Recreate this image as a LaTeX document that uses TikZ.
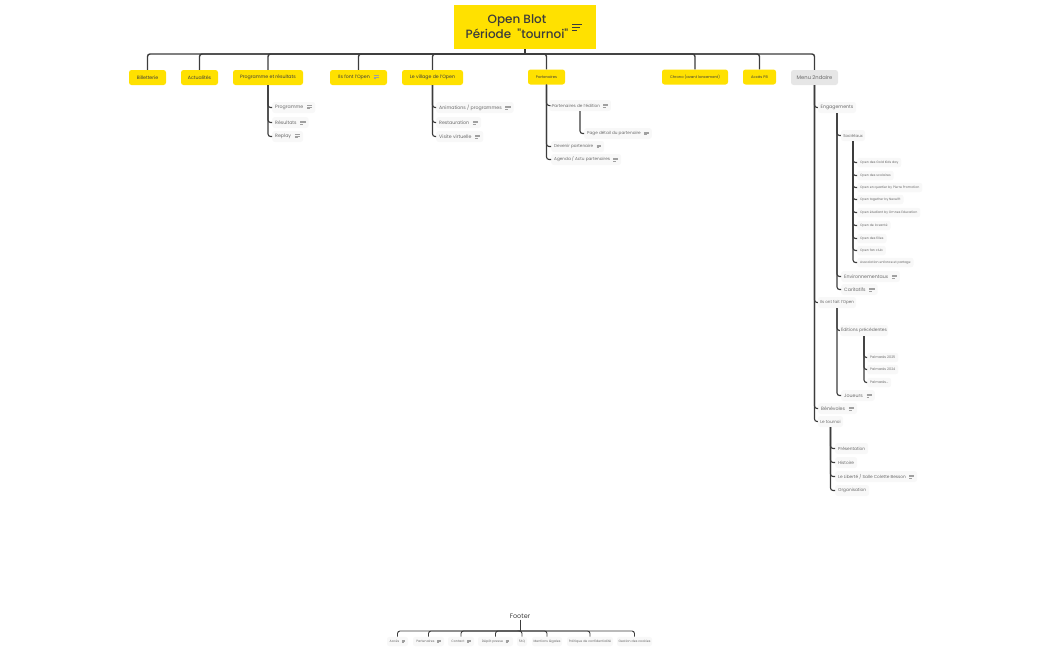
\documentclass[tikz,border=0pt]{standalone}
\usepackage{fontspec}
\setmainfont{Poppins}
\newfontfamily\titlefont{Poppins Medium}
\usetikzlibrary{backgrounds}
\definecolor{openyellow}{HTML}{FFE100}
\definecolor{inkdark}{HTML}{3C3C3C}
\definecolor{inkleaf}{HTML}{6A6A6A}
\definecolor{inkicon}{HTML}{A0A0A0}
\definecolor{pillgray}{HTML}{F8F8F8}
\definecolor{menugray}{HTML}{E6E6E6}
\newcommand{\noteicon}{\hspace{.8em}\raisebox{-.05em}{\color{inkicon}\vbox{\hrule width 1.1em height .14em \vskip .16em \hrule width 1.1em height .14em \vskip .16em \hrule width .6em height .14em}}}
\tikzset{
 topbox/.style={fill=openyellow, text=inkdark, rounded corners=2.5pt, font=\fontsize{4.7}{6}\selectfont, minimum height=15pt, inner sep=1pt, anchor=center},
 smalltop/.style={topbox, font=\fontsize{3.7}{6}\selectfont},
 menubox/.style={fill=menugray, text=inkleaf, rounded corners=2.5pt, font=\fontsize{5.2}{6}\selectfont, minimum height=15pt, inner sep=1pt, anchor=center},
 leaf/.style={fill=pillgray, text=inkleaf, rounded corners=2.5pt, font=\fontsize{4.7}{6}\selectfont, minimum height=11pt, inner xsep=3pt, inner ysep=1pt, anchor=west, yshift=-.5pt},
 tiny leaf/.style={leaf, font=\fontsize{3.4}{5}\selectfont, minimum height=9.5pt},
 foot leaf/.style={leaf, anchor=center, font=\fontsize{3.2}{5}\selectfont, minimum height=9.5pt, inner xsep=1pt},
 mainline/.style={draw=inkdark, line width=1.4pt, rounded corners=2.5pt},
 subline/.style={draw=inkdark, line width=1.1pt, rounded corners=2.5pt},
 footline/.style={draw=inkdark, line width=.9pt, rounded corners=2.5pt},
}
\begin{document}
\begin{tikzpicture}[x=1pt, y=-1pt]
    \useasboundingbox (0,0) rectangle (1050,651);

    % title
    \node[fill=openyellow, text=inkdark, minimum width=142pt, minimum height=44pt, inner sep=0pt] (title) at (525,27) {};
    \node[text=inkdark, font=\fontsize{12}{15}\titlefont\selectfont, align=center, inner sep=0pt] (titletext) at (517,27) {Open Blot\\Période~~"tournoi"};
    \node[text=inkdark, font=\fontsize{10}{12}\selectfont, inner sep=0pt] (titleicon) at (577,27) {\vbox{\hrule width 1em height .1em \vskip .2em \hrule width .75em height .1em \vskip .2em \hrule width .5em height .1em}};

    % top level
    \coordinate (bar) at (525,54);
    \draw[mainline] (title.south) -- (bar);
    \foreach \nm/\cx/\bw/\txt in {billet/147.5/37/Billetterie, actu/199.5/37/Actualités, prog/268/70/Programme et résultats, font/358.5/57/{Ils font l'Open\noteicon}, village/432.5/61/Le village de l'Open} {
        \node[topbox, minimum width=\bw pt] (\nm) at (\cx,77.5) {\txt};
        \draw[mainline] (bar) -| (\nm.north);
    }
    \foreach \nm/\cx/\bw/\txt in {part/546.5/37/Partenaires, chrono/695/66/Chrono (avant lancement), acces/759.5/33/Accès PB} {
        \node[smalltop, minimum width=\bw pt] (\nm) at (\cx,77) {\txt};
        \draw[mainline] (bar) -| (\nm.north);
    }
    \node[menubox, minimum width=47pt] (menu) at (814.5,77.5) {Menu 2ndaire};
    \draw[mainline] (bar) -| (menu.north);

    % programme et village
    \foreach \nm/\y/\txt in {pa/107/Programme, pb/122/Résultats, pc/136/Replay} {
        \node[leaf] (\nm) at (272,\y) {\txt\noteicon};
        \draw[subline] (prog.south) |- (\nm.west);
    }
    \foreach \nm/\y/\txt in {va/107/{Animations / programmes}, vb/122/Restauration, vc/136/Visite virtuelle} {
        \node[leaf] (\nm) at (436,\y) {\txt\noteicon};
        \draw[subline] (village.south) |- (\nm.west);
    }

    % partenaires
    \node[leaf, anchor=center, minimum width=58pt, font=\fontsize{4.2}{6}\selectfont] (edition) at (580,105) {Partenaires de l'édition\noteicon};
    \node[leaf, font=\fontsize{4.2}{6}\selectfont] (detail) at (584,133) {Page détail du partenaire\noteicon};
    \node[leaf, font=\fontsize{4.2}{6}\selectfont] (devenir) at (551,146) {Devenir partenaire\noteicon};
    \node[leaf, font=\fontsize{4.2}{6}\selectfont] (agenda) at (551,159) {Agenda / Actu partenaires\noteicon};
    \foreach \nm in {edition, devenir, agenda}
        \draw[subline] (part.south) |- (\nm.west);
    \draw[subline] (edition.south) |- (detail.west);

    % menu 2ndaire
    \node[leaf, anchor=center, minimum width=38pt, inner xsep=1pt] (engage) at (837,107) {Engagements};
    \node[leaf, anchor=center, minimum width=38pt, inner xsep=1pt, font=\fontsize{4.1}{6}\selectfont] (ontfait) at (837,302) {Ils ont fait l'Open};
    \node[leaf] (benevole) at (818,408) {Bénévoles\noteicon};
    \node[leaf, anchor=center, minimum width=25pt, inner xsep=1pt, font=\fontsize{4.2}{6}\selectfont] (tournoi) at (830.5,421) {Le tournoi};
    \foreach \nm in {engage, ontfait, benevole, tournoi}
        \draw[subline] (menu.south) |- (\nm.west);

    \node[leaf, anchor=center, minimum width=24pt, inner xsep=1pt, font=\fontsize{4}{6}\selectfont] (societal) at (853,135) {Sociétaux};
    \node[leaf] (enviro) at (841,276) {Environnementaux\noteicon};
    \node[leaf] (carita) at (841,289) {Caritatifs\noteicon};
    \foreach \nm in {societal, enviro, carita}
        \draw[subline] (engage.south) |- (\nm.west);

    \foreach \y/\txt [count=\i] in {162/Open des Gold Kids day, 175/Open des scolaires, 187/Open en quartier by Pierre Promotion, 199/Open together by Nexwift, 212/Open étudiant by Omnes Education, 225/Open de la santé, 238/Open des filles, 250/Open fan club, 262/Association enfance et partage} {
        \node[tiny leaf, font=\fontsize{3.2}{5}\selectfont] (soc\i) at (857,\y) {\txt};
        \draw[subline] (societal.south) |- (soc\i.west);
    }

    \node[leaf, anchor=center, minimum width=46pt, inner xsep=1pt, font=\fontsize{4.4}{6}\selectfont] (editions) at (864,330) {Éditions précédentes};
    \node[leaf] (joueurs) at (841,395) {Joueurs\noteicon};
    \foreach \nm in {editions, joueurs}
        \draw[subline] (ontfait.south) |- (\nm.west);
    \foreach \y/\txt [count=\i] in {357/Palmarès 2025, 369/Palmarès 2024, 382/{Palmarès\ldots}} {
        \node[tiny leaf] (palm\i) at (867,\y) {\txt};
        \draw[subline] (editions.south) |- (palm\i.west);
    }

    \foreach \y/\txt [count=\i] in {448/Présentation, 462/Histoire, 476/{Le Liberté / Salle Colette Besson\noteicon}, 490/Organisation} {
        \node[leaf, font=\fontsize{4.3}{6}\selectfont] (lt\i) at (835,\y) {\txt};
        \draw[subline] (tournoi.south) |- (lt\i.west);
    }

    % footer
    \node[text=inkdark, font=\fontsize{6.5}{8}\selectfont, inner sep=1pt] (footer) at (520,616) {Footer};
    \coordinate (footbar) at (520,631);
    \draw[footline] (footer.south) -- (footbar);
    \foreach \nm/\cx/\bw/\txt in {fa/397.5/21/{Accès\noteicon}, fb/428.5/31/{Partenaires\noteicon}, fc/461/26/{Contact\noteicon}, fd/495.5/35/{Dépôt presse\noteicon}, fe/522/10/FAQ, ff/547/30/Mentions légales, fg/590/46/Politique de confidentialité, fh/634.5/35/Gestion des cookies} {
        \node[foot leaf, minimum width=\bw pt] (\nm) at (\cx,641) {\txt};
        \draw[footline] (footbar) -| (\nm.north);
    }
\end{tikzpicture}
\end{document}
